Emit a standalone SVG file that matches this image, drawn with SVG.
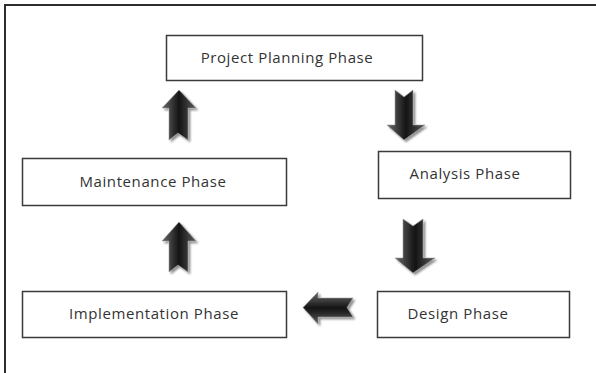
<svg xmlns="http://www.w3.org/2000/svg" width="596" height="373" viewBox="0 0 596 373">
  <defs>
    <linearGradient id="shaftV" x1="0" y1="0" x2="1" y2="0">
      <stop offset="0" stop-color="#6a6a6a"/>
      <stop offset="0.5" stop-color="#141414"/>
      <stop offset="1" stop-color="#5a5a5a"/>
    </linearGradient>
    <linearGradient id="shaftH" x1="0" y1="0" x2="0" y2="1">
      <stop offset="0" stop-color="#6a6a6a"/>
      <stop offset="0.5" stop-color="#141414"/>
      <stop offset="1" stop-color="#5a5a5a"/>
    </linearGradient>
    <filter id="shadow" x="-30%" y="-30%" width="160%" height="160%">
      <feGaussianBlur in="SourceAlpha" stdDeviation="1.2"/>
      <feOffset dx="2" dy="2" result="b"/>
      <feComponentTransfer><feFuncA type="linear" slope="0.45"/></feComponentTransfer>
      <feMerge><feMergeNode/><feMergeNode in="SourceGraphic"/></feMerge>
    </filter>
  </defs>
  <style>
    .box { fill: #ffffff; stroke: #3a3a3a; stroke-width: 1.5; }
    .label { font-family: "Open Sans", "DejaVu Sans", sans-serif; font-size: 15px; letter-spacing: 0.6px; fill: #333333; text-anchor: middle; }
    .arrowV { fill: url(#shaftV); stroke: #9a9a9a; stroke-width: 0.6; filter: url(#shadow); }
    .arrowH { fill: url(#shaftH); stroke: #9a9a9a; stroke-width: 0.6; filter: url(#shadow); }
  </style>

  <rect width="596" height="373" fill="#ffffff"/>

  <!-- outer frame (top and left edges) -->
  <g id="frame">
    <line x1="4" y1="5" x2="596" y2="5" stroke="#2e2e2e" stroke-width="2"/>
    <line x1="5" y1="4" x2="5" y2="373" stroke="#2e2e2e" stroke-width="2"/>
  </g>

  <g id="project-planning">
    <rect class="box" x="166.5" y="35.5" width="256" height="45"/>
    <text class="label" x="287" y="63">Project Planning Phase</text>
  </g>
  <g id="analysis">
    <rect class="box" x="378.5" y="151.5" width="192" height="47"/>
    <text class="label" x="465" y="179">Analysis Phase</text>
  </g>
  <g id="maintenance">
    <rect class="box" x="22.5" y="158.5" width="264" height="47"/>
    <text class="label" x="153" y="187">Maintenance Phase</text>
  </g>
  <g id="design">
    <rect class="box" x="377.5" y="291.5" width="192" height="46"/>
    <text class="label" x="458" y="319">Design Phase</text>
  </g>
  <g id="implementation">
    <rect class="box" x="22.5" y="291.5" width="264" height="46"/>
    <text class="label" x="154" y="319">Implementation Phase</text>
  </g>

  <g id="connectors">
    <!-- planning -> analysis -->
    <path class="arrowV" d="M395,90 L404,97 L413,90 L413,125 L425,125 L404,140 L387,125 L395,125 Z"/>
    <!-- analysis -> design -->
    <path class="arrowV" d="M403,219 L413,226 L423,219 L423,258 L435,258 L413,273 L395,258 L403,258 Z"/>
    <!-- design -> implementation -->
    <path class="arrowH" d="M353,298 L347,307.5 L353,317 L318,317 L318,324 L303,307.5 L318,292 L318,298 Z"/>
    <!-- implementation -> maintenance -->
    <path class="arrowV" d="M169,272 L178,265 L188,272 L188,241 L196,241 L179,222 L162,241 L169,241 Z"/>
    <!-- maintenance -> planning -->
    <path class="arrowV" d="M169,140 L178,133 L188,140 L188,108 L196,108 L179,90 L162,108 L169,108 Z"/>
  </g>
</svg>
